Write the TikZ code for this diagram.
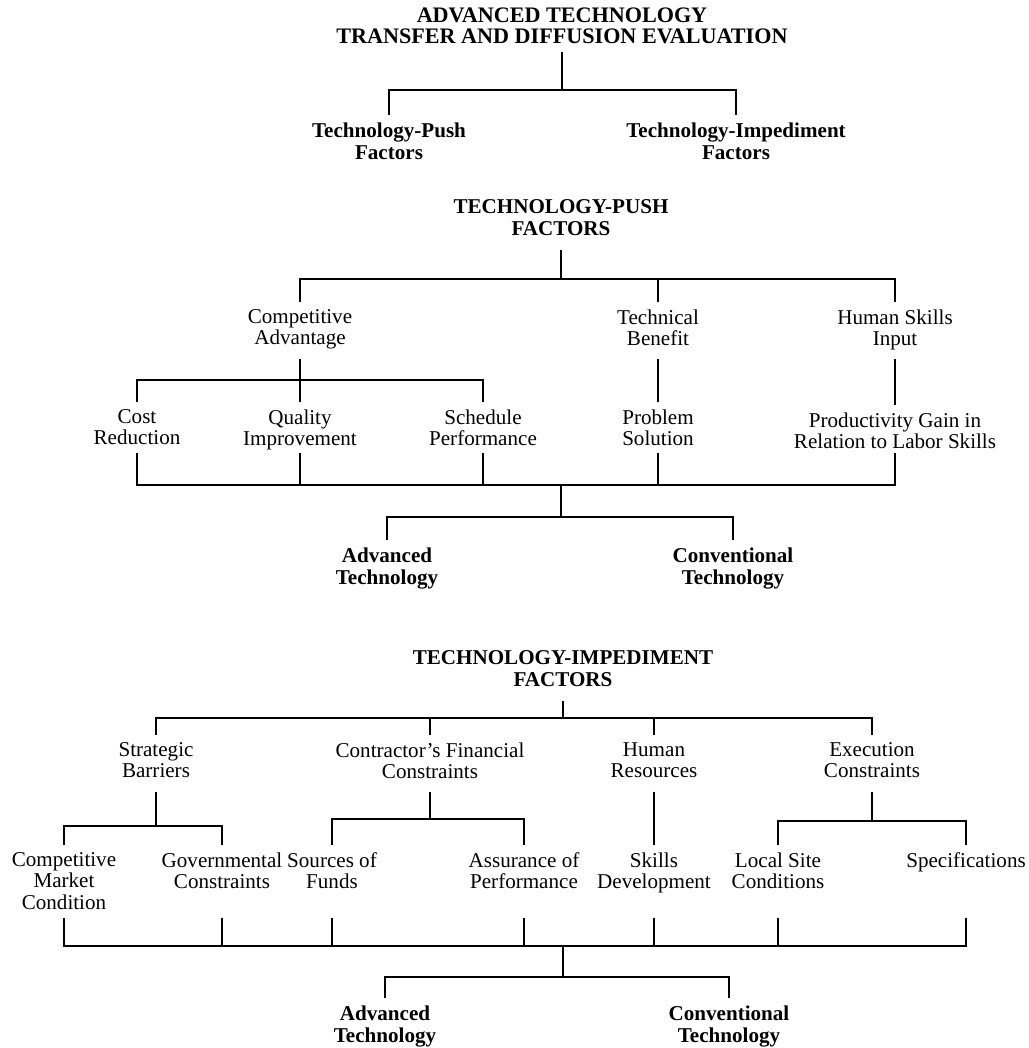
\documentclass[tikz,border=0pt]{standalone}
\usepackage{fontspec}
\setmainfont{Liberation Serif}
\begin{document}
\begin{tikzpicture}[x=0.02cm,y=-0.02cm,
  lbl/.style={align=center,inner xsep=3pt,inner ysep=4pt,font=\fontsize{12}{12.3}\selectfont,
    execute at begin node=\strut,execute at end node=\strut},
  bld/.style={lbl,font=\fontsize{12}{12.6}\selectfont\bfseries},
  link/.style={line width=1.1pt}]
\useasboundingbox (0,0) rectangle (1028,1048);

% overall evaluation
\node[bld,inner ysep=1pt,font=\fontsize{12.6}{12.2}\selectfont\bfseries] (eval) at (562,29) {ADVANCED TECHNOLOGY\\TRANSFER AND DIFFUSION EVALUATION};
\node[bld,anchor=north] (tpf) at (389,115) {Technology-Push\\Factors};
\node[bld,anchor=north] (tif) at (736,115) {Technology-Impediment\\Factors};
\coordinate (b0) at (562,90);
\draw[link] (eval.south) -- (b0);
\draw[link] (tpf.north) -- (tpf.north |- b0) -- (tif.north |- b0) -- (tif.north);

% technology-push factors
\node[bld] (push) at (561,221) {TECHNOLOGY-PUSH\\FACTORS};
\node[lbl,anchor=north] (ca) at (300,302) {Competitive\\Advantage};
\node[lbl,anchor=north] (tb) at (658,302) {Technical\\Benefit};
\node[lbl,anchor=north] (hs) at (895,302) {Human Skills\\Input};
\coordinate (b1) at (561,279);
\draw[link] (push.south) -- (b1);
\draw[link] (ca.north) -- (ca.north |- b1) -- (hs.north |- b1) -- (hs.north);
\draw[link] (tb.north) -- (tb.north |- b1);

\node[lbl,anchor=north] (cr) at (137,402) {Cost\\Reduction};
\node[lbl,anchor=north] (qi) at (300,402) {Quality\\Improvement};
\node[lbl,anchor=north] (sp) at (483,402) {Schedule\\Performance};
\node[lbl,anchor=north] (ps) at (658,402) {Problem\\Solution};
\node[lbl,anchor=north] (pg) at (895,405) {Productivity Gain in\\Relation to Labor Skills};
\coordinate (b2) at (300,380);
\draw[link] (ca.south) -- (b2);
\draw[link] (cr.north) -- (cr.north |- b2) -- (sp.north |- b2) -- (sp.north);
\draw[link] (qi.north) -- (qi.north |- b2);
\draw[link] (tb.south) -- (ps.north);
\draw[link] (hs.south) -- (pg.north);

\coordinate (p1) at (561,453);
\coordinate (b3) at (561,485);
\coordinate (b4) at (561,517);
\draw[link] (cr |- p1) -- (cr |- b3) -- (pg |- b3) -- (pg |- p1);
\foreach \n in {qi,sp,ps} \draw[link] (\n |- p1) -- (\n |- b3);
\draw[link] (b3) -- (b4);
\node[bld,anchor=north] (adv1) at (387,540) {Advanced\\Technology};
\node[bld,anchor=north] (con1) at (733,540) {Conventional\\Technology};
\draw[link] (adv1.north) -- (adv1.north |- b4) -- (con1.north |- b4) -- (con1.north);

% technology-impediment factors
\node[bld] (imp) at (563,672) {TECHNOLOGY-IMPEDIMENT\\FACTORS};
\node[lbl,anchor=north] (sb) at (156,735) {Strategic\\Barriers};
\node[lbl,anchor=north] (cf) at (430,735) {Contractor's Financial\\Constraints};
\node[lbl,anchor=north] (hr) at (654,735) {Human\\Resources};
\node[lbl,anchor=north] (ec) at (872,735) {Execution\\Constraints};
\coordinate (b5) at (563,718);
\draw[link] (imp.south) -- (b5);
\draw[link] (sb.north) -- (sb.north |- b5) -- (ec.north |- b5) -- (ec.north);
\draw[link] (cf.north) -- (cf.north |- b5);
\draw[link] (hr.north) -- (hr.north |- b5);

\node[lbl,anchor=north] (cm) at (64,845) {Competitive\\Market\\Condition};
\node[lbl,anchor=north] (gc) at (222,845) {Governmental\\Constraints};
\node[lbl,anchor=north] (sf) at (332,845) {Sources of\\Funds};
\node[lbl,anchor=north] (ap) at (524,845) {Assurance of\\Performance};
\node[lbl,anchor=north] (sd) at (654,845) {Skills\\Development};
\node[lbl,anchor=north] (lc) at (778,845) {Local Site\\Conditions};
\node[lbl,anchor=north] (sc) at (966,845) {Specifications};
\coordinate (b6) at (156,826);
\coordinate (b7) at (430,819);
\coordinate (b8) at (872,821);
\draw[link] (sb.south) -- (b6);
\draw[link] (cm.north) -- (cm.north |- b6) -- (gc.north |- b6) -- (gc.north);
\draw[link] (cf.south) -- (b7);
\draw[link] (sf.north) -- (sf.north |- b7) -- (ap.north |- b7) -- (ap.north);
\draw[link] (hr.south) -- (sd.north);
\draw[link] (ec.south) -- (b8);
\draw[link] (lc.north) -- (lc.north |- b8) -- (sc.north |- b8) -- (sc.north);

\coordinate (q1) at (563,918);
\coordinate (b9) at (563,946);
\coordinate (b10) at (563,977);
\draw[link] (cm |- q1) -- (cm |- b9) -- (sc |- b9) -- (sc |- q1);
\foreach \n in {gc,sf,ap,sd,lc} \draw[link] (\n |- q1) -- (\n |- b9);
\draw[link] (b9) -- (b10);
\node[bld,anchor=north] (adv2) at (385,998) {Advanced\\Technology};
\node[bld,anchor=north] (con2) at (729,998) {Conventional\\Technology};
\draw[link] (adv2.north) -- (adv2.north |- b10) -- (con2.north |- b10) -- (con2.north);
\end{tikzpicture}
\end{document}
